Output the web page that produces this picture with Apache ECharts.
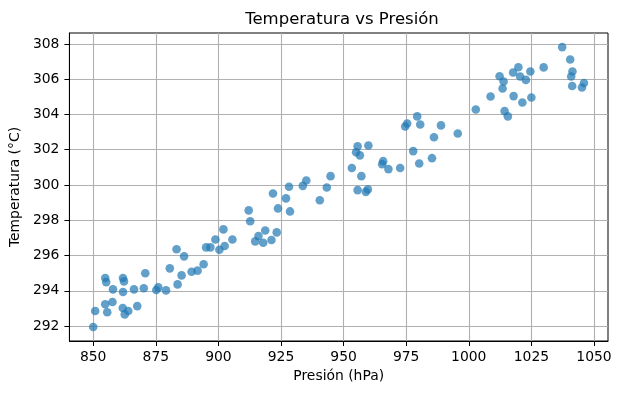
<!DOCTYPE html>
<html>
<head>
<meta charset="utf-8">
<script src="https://cdn.jsdelivr.net/npm/echarts@6/dist/echarts.min.js"></script>
<style>html,body{margin:0;padding:0;background:#fff;}#c{width:621px;height:394px;}</style>
</head>
<body>
<div id="c"></div>
<script>
const pressure = [850.0,850.8,854.8,855.2,854.8,855.6,857.7,857.9,861.9,862.3,861.9,861.8,862.6,864.0,866.3,867.6,870.2,870.8,875.2,876.0,879.1,880.6,883.3,883.7,885.3,886.3,889.3,891.7,894.1,895.1,896.8,898.8,900.4,902.0,902.5,905.6,912.1,912.7,914.7,916.0,917.9,918.7,921.2,921.8,923.3,923.8,927.0,928.2,928.6,933.7,935.1,940.5,943.3,944.8,
953.3,955.6,955.0,956.5,955.6,957.1,959.9,958.9,959.7,965.8,965.4,967.9,972.6,974.6,975.4,977.8,979.4,980.2,980.6,985.3,986.1,988.9,995.6,1002.8,1008.7,1012.3,1013.9,1013.5,1014.3,1015.6,1017.7,1019.8,1020.5,1017.9,1021.4,1022.8,1024.6,1025.0,1029.9,1037.3,1040.5,1041.4,1040.9,1041.3,1045.2,1046.0];
const temperature = [291.94,292.85,294.72,294.49,293.23,292.78,293.36,294.08,294.72,294.53,293.93,293.02,292.66,292.85,294.08,293.13,294.14,294.99,294.04,294.19,294.02,295.27,296.35,294.36,294.87,295.95,295.08,295.14,295.50,296.46,296.46,296.91,296.33,297.48,296.54,296.91,298.56,297.94,296.80,297.10,296.72,297.42,296.88,299.52,297.31,298.67,299.24,299.90,298.50,299.95,300.25,299.13,299.86,300.50,
300.96,302.19,301.86,301.68,299.71,300.50,302.24,299.61,299.75,301.35,301.18,300.90,300.96,303.32,303.49,301.92,303.89,301.22,303.43,301.52,302.71,303.38,302.92,304.28,305.02,306.17,305.87,305.47,304.19,303.89,306.38,306.68,306.15,305.04,304.68,305.96,306.44,304.96,306.67,307.82,307.12,306.44,306.15,305.61,305.53,305.78];
const xTicks = [850,875,900,925,950,975,1000,1025,1050];
const yTicks = [292,294,296,298,300,302,304,306,308];

const chart = echarts.init(document.getElementById('c'), null, {renderer:'canvas'});
const font = 'DejaVu Sans';
chart.setOption({
  animation: false,
  backgroundColor: '#fff',
  title: {
    text: 'Temperatura vs Presión',
    left: 337, top: 6, textAlign: 'center',
    textStyle: {fontFamily: font, fontSize: 16.5, fontWeight: 'normal', color: '#000'}
  },
  grid: {left: 66, right: 13, top: 33, bottom: 53, show: true, borderColor: '#000', borderWidth: 1, backgroundColor: 'transparent'},
  xAxis: {
    type: 'value', min: 840.5, max: 1055.6,
    name: 'Presión (hPa)', nameLocation: 'middle', nameGap: 28,
    nameTextStyle: {fontFamily: font, fontSize: 13.9, color: '#000'},
    axisLine: {show: true, onZero: false, lineStyle: {color: '#000', width: 1}},
    axisTick: {show: true, length: 5, lineStyle: {color: '#000'}, customValues: xTicks},
    axisLabel: {fontFamily: font, fontSize: 13.9, color: '#000', margin: 9, customValues: xTicks, formatter: v => String(v)},
    splitLine: {show: true, lineStyle: {color: '#b0b0b0', width: 1.1}}
  },
  yAxis: {
    type: 'value', min: 291.15, max: 308.62,
    name: 'Temperatura (°C)', nameLocation: 'middle', nameGap: 40, nameRotate: 90,
    nameTextStyle: {fontFamily: font, fontSize: 13.9, color: '#000'},
    axisLine: {show: true, onZero: false, lineStyle: {color: '#000', width: 1}},
    axisTick: {show: true, length: 5, lineStyle: {color: '#000'}, customValues: yTicks},
    axisLabel: {fontFamily: font, fontSize: 13.9, color: '#000', margin: 10, customValues: yTicks, formatter: v => String(v)},
    splitLine: {show: true, lineStyle: {color: '#b0b0b0', width: 1.1}}
  },
  series: [{
    type: 'scatter',
    symbolSize: 8.6,
    data: pressure.map((p, i) => [p, temperature[i]]),
    itemStyle: {color: '#1f77b4', opacity: 0.7}
  }]
});
</script>
</body>
</html>
